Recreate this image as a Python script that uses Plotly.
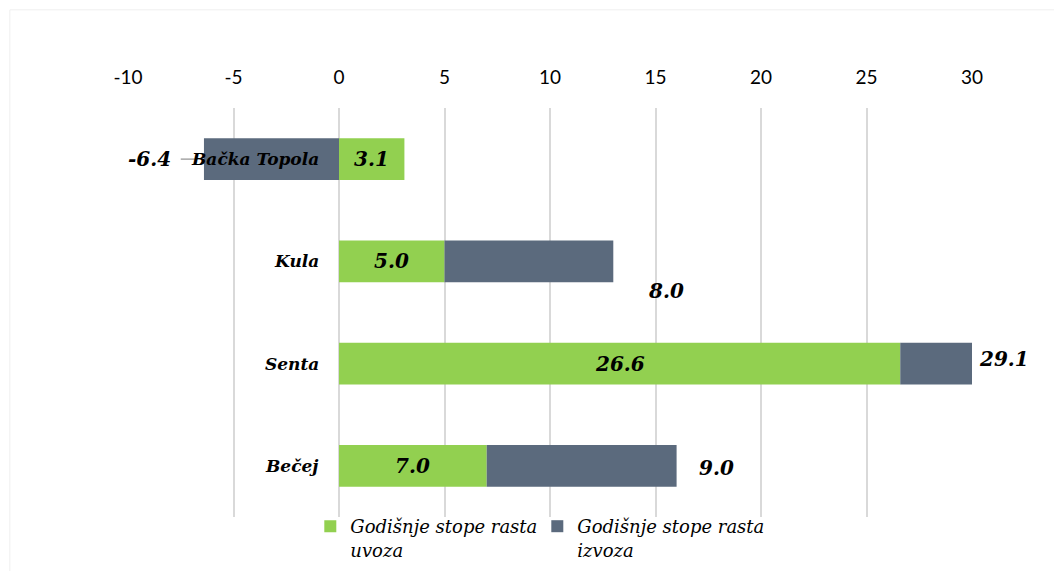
import plotly.graph_objects as go

categories = ["Bačka Topola", "Kula", "Senta", "Bečej"]
uvoz = [3.1, 5.0, 26.6, 7.0]
izvoz = [-6.4, 8.0, 29.1, 9.0]
series_names = ["Godišnje stope rasta<br>uvoza", "Godišnje stope rasta<br>izvoza"]
tick_vals = [-10, -5, 0, 5, 10, 15, 20, 25, 30]
tick_text = ["-10", "-5", "0", "5", "10", "15", "20", "25", "30"]

GREEN = "#92d050"
SLATE = "#5b6a7d"
SERIF = "DejaVu Serif"

fig = go.Figure()
fig.add_trace(go.Bar(y=categories, x=uvoz, orientation="h", name=series_names[0],
                     marker=dict(color=GREEN, line=dict(width=0)), width=0.41))
fig.add_trace(go.Bar(y=categories, x=izvoz, orientation="h", name=series_names[1],
                     marker=dict(color=SLATE, line=dict(width=0)), width=0.41))

lab_font = dict(family=SERIF, size=20, color="black")
# import labels centered in green bars
for c, v in zip(categories, uvoz):
    fig.add_annotation(x=v / 2, y=c, text=f"<b><i>{v:.1f}</i></b>", showarrow=False,
                       font=lab_font, xanchor="center", yanchor="middle")

# export labels (placed outside the bar ends)
exp_pos = {"Bačka Topola": (-9.0, 0), "Kula": (15.5, -30), "Senta": (30.0, 5), "Bečej": (17.9, -2)}
exp_xshift = {"Bačka Topola": 0, "Kula": 0, "Senta": 32, "Bečej": 0}
for c, v in zip(categories, izvoz):
    px_, yshift = exp_pos[c]
    fig.add_annotation(x=px_, y=c, text=f"<b><i>{v:.1f}</i></b>", showarrow=False,
                       font=lab_font, xanchor="center", yanchor="middle",
                       yshift=yshift, xshift=exp_xshift[c])

# category labels near zero line
for c in categories:
    fig.add_annotation(x=0, y=c, text=f"<b><i>{c}</i></b>", showarrow=False,
                       font=dict(family=SERIF, size=17, color="black"),
                       xanchor="right", yanchor="middle", xshift=-18)

# leader line for negative label
fig.add_shape(type="line", x0=-7.5, x1=-6.4, y0=categories[0], y1=categories[0],
              line=dict(color="#a6a6a6", width=1.5), layer="below")

# faint chart border
fig.add_shape(type="rect", xref="paper", yref="paper", x0=-0.14, x1=1.12, y0=-0.16, y1=1.24,
              line=dict(color="#efefef", width=1), layer="below")

fig.update_layout(
    width=1062, height=571,
    margin=dict(l=120, r=98, t=100, b=62, autoexpand=False),
    barmode="relative",
    plot_bgcolor="white", paper_bgcolor="white",
    xaxis=dict(side="top", range=[-10, 30], tickvals=tick_vals, ticktext=tick_text, showgrid=True,
               gridcolor="#d9d9d9", gridwidth=2, zeroline=False, showline=False,
               ticks="", tickfont=dict(family="Lato", size=19, color="black"), ticklabelstandoff=19),
    yaxis=dict(categoryorder="array", categoryarray=categories, autorange="reversed",
               showticklabels=False, showgrid=False, zeroline=False, showline=False, ticks=""),
    showlegend=True,
    legend=dict(orientation="h", x=0.216, y=0.022, xanchor="left", yanchor="top",
                font=dict(family=SERIF, size=18, color="black", style="italic"),
                entrywidth=182, traceorder="normal", itemclick=False, valign="top",
                bgcolor="rgba(0,0,0,0)"),
    bargap=0.59,
)

fig.write_html("out.html")
